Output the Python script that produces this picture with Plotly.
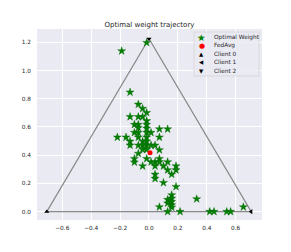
import plotly.graph_objects as go
import math

# ---- data ----
opt_x = [-0.016, -0.189, -0.131, -0.074, -0.044, -0.016, -0.131, -0.074, -0.044, -0.016,
         -0.101, -0.074, -0.016, -0.074, -0.016, -0.101, -0.074, -0.016, 0.014, 0.072,
         0.129, -0.219, -0.159, -0.074, -0.016, 0.072, -0.131, -0.044, -0.016, -0.131,
         -0.074, -0.044, -0.016, 0.014, 0.042, -0.044, -0.016, 0.072, -0.074, -0.101,
         -0.101, -0.016, 0.014, 0.042, 0.072, 0.072, 0.129, -0.044, 0.042, 0.100,
         0.129, 0.187, 0.187, 0.157, 0.042, 0.042, 0.100, 0.187, 0.129, 0.129,
         0.157, 0.157, 0.157, 0.157, 0.157, 0.072, 0.129, 0.215, 0.330, 0.420,
         0.450, 0.538, 0.565, 0.653]
opt_y = [1.197, 1.138, 0.846, 0.760, 0.730, 0.701, 0.672, 0.672, 0.672, 0.643,
         0.617, 0.617, 0.617, 0.595, 0.590, 0.560, 0.560, 0.560, 0.560, 0.585,
         0.585, 0.527, 0.527, 0.527, 0.527, 0.527, 0.498, 0.498, 0.498, 0.470,
         0.470, 0.470, 0.470, 0.470, 0.470, 0.440, 0.440, 0.437, 0.412, 0.375,
         0.350, 0.375, 0.352, 0.352, 0.375, 0.352, 0.352, 0.323, 0.323, 0.323,
         0.295, 0.323, 0.295, 0.264, 0.264, 0.234, 0.205, 0.177, 0.085, 0.060,
         0.118, 0.094, 0.071, 0.047, 0.031, 0.033, 0.000, 0.000, 0.090, 0.000,
         0.000, 0.000, 0.000, 0.033]

fedavg_x = [0.007]
fedavg_y = [0.418]

client_names = ["Client 0", "Client 1", "Client 2"]
client_x = [-1 / math.sqrt(2), 1 / math.sqrt(2), 0.0]
client_y = [0.0, 0.0, math.sqrt(1.5)]
client_symbols = ["triangle-up", "triangle-left", "triangle-down"]

x_ticks = [-0.6, -0.4, -0.2, 0.0, 0.2, 0.4, 0.6]
y_ticks = [0.0, 0.2, 0.4, 0.6, 0.8, 1.0, 1.2]

legend_labels = ["Optimal Weight", "FedAvg"] + client_names
legend_glyphs = ["\u2605", "\u25CF", "\u25B2", "\u25C0", "\u25BC"]
legend_colors = ["#008000", "red", "black", "black", "black"]
legend_glyph_sizes = [9.5, 7, 5.5, 5.5, 5.5]

FONT = "DejaVu Sans"
TXT = "#262626"

fig = go.Figure()

# simplex triangle edges
tri_x = client_x + [client_x[0]]
tri_y = client_y + [client_y[0]]
fig.add_trace(go.Scatter(x=tri_x, y=tri_y, mode="lines",
                         line=dict(color="#8a8a8a", width=1.2), showlegend=False,
                         hoverinfo="skip"))

fig.add_trace(go.Scatter(x=opt_x, y=opt_y, mode="markers", name="Optimal Weight",
                         showlegend=False,
                         marker=dict(symbol="star", size=6, color="#008000",
                                     line=dict(width=0.4, color="#006400"))))
fig.add_trace(go.Scatter(x=fedavg_x, y=fedavg_y, mode="markers", name="FedAvg",
                         showlegend=False,
                         marker=dict(symbol="circle", size=5, color="red",
                                     line=dict(width=0))))
for nm, cx, cy, sym in zip(client_names, client_x, client_y, client_symbols):
    fig.add_trace(go.Scatter(x=[cx], y=[cy], mode="markers", name=nm, showlegend=False,
                             marker=dict(symbol=sym, size=4.5, color="black",
                                         line=dict(width=0))))

# compact legend box (matplotlib-like)
fig.add_shape(type="rect", xref="paper", yref="paper",
              x0=0.698, x1=0.987, y0=0.754, y1=0.984,
              fillcolor="rgba(234,234,242,0.8)", line=dict(color="#cccccc", width=0.6),
              layer="above")
row_y = [0.957, 0.913, 0.870, 0.826, 0.782]
for lab, g, col, gs, yy in zip(legend_labels, legend_glyphs, legend_colors,
                               legend_glyph_sizes, row_y):
    fig.add_annotation(xref="paper", yref="paper", x=0.732, y=yy, text=g,
                       showarrow=False, xanchor="center", yanchor="middle",
                       font=dict(size=gs, color=col, family=FONT))
    fig.add_annotation(xref="paper", yref="paper", x=0.779, y=yy, text=lab,
                       showarrow=False, xanchor="left", yanchor="middle",
                       font=dict(size=5.8, color=TXT, family=FONT))

fig.update_layout(
    width=291, height=252,
    margin=dict(l=37, r=29, t=29, b=32),
    paper_bgcolor="white", plot_bgcolor="#EAEAF2",
    showlegend=False,
    font=dict(family=FONT, size=6, color=TXT),
    title=dict(text="Optimal weight trajectory", font=dict(size=7, color=TXT, family=FONT),
               x=0.5, xref="paper", y=1 - 24.3 / 252, yref="container",
               xanchor="center", yanchor="middle"),
    xaxis=dict(range=[-0.775, 0.782], tickvals=x_ticks, tickformat=".1f",
               showgrid=True, gridcolor="white", gridwidth=1, zeroline=False,
               showline=False, ticks="", ticklabelstandoff=3, automargin=False,
               tickfont=dict(size=5.8, color=TXT, family=FONT)),
    yaxis=dict(range=[-0.059, 1.294], tickvals=y_ticks, tickformat=".1f",
               showgrid=True, gridcolor="white", gridwidth=1, zeroline=False,
               showline=False, ticks="", ticklabelstandoff=5, automargin=False,
               tickfont=dict(size=5.8, color=TXT, family=FONT)),
)

fig.write_html("out.html", config={"displayModeBar": False},
               post_script="document.body.style.margin='0';")
